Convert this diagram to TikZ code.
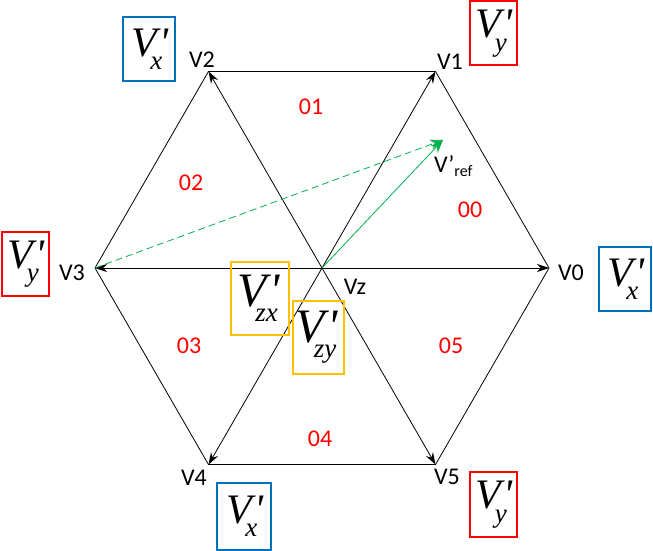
\documentclass[tikz,border=0pt]{standalone}
\usepackage{fontspec}
\setmainfont{Carlito}
\newfontfamily\timesfont{Liberation Serif}
\usetikzlibrary{arrows.meta}
\definecolor{boxblue}{HTML}{0070C0}
\definecolor{boxred}{HTML}{FF0000}
\definecolor{boxyellow}{HTML}{FFC000}
\definecolor{refgreen}{HTML}{00B050}
% italic V with prime and a lowered index
\newcommand{\primevec}[3]{{\timesfont\itshape\fontsize{#1}{#1}\selectfont
    V\kern0.05em\char"27\kern#2em\raisebox{-0.32em}{\fontsize{27}{27}\selectfont #3}\kern0.1em}}

\begin{document}
\begin{tikzpicture}[
    x=1pt, y=-1pt,
    edge/.style={black, line width=0.8pt},
    vec/.style={edge, -{Stealth[length=12pt,width=8pt]}},
    refvec/.style={refgreen, line width=0.8pt, -{Stealth[length=13pt,width=10pt]}},
    vlabel/.style={inner sep=0pt, font=\fontsize{24}{24}\selectfont},
    sector/.style={vlabel, text=boxred},
    xbox/.style={draw=boxblue, line width=2pt, minimum width=52pt, minimum height=64pt, inner sep=0pt},
    ybox/.style={draw=boxred, line width=2pt, minimum width=47pt, minimum height=64pt, inner sep=0pt},
    zbox/.style={draw=boxyellow, line width=2pt, minimum height=73pt, inner sep=0pt}
]
\useasboundingbox (0,0) rectangle (653,551);

\coordinate (c) at (322,268);
\foreach \i in {0,...,5}
    \path (c) ++(-\i*60:227) coordinate (v\i);
\coordinate (ref) at (443,140);

% hexagon and the six vectors
\draw[edge] (v0) -- (v1) -- (v2) -- (v3) -- (v4) -- (v5) -- cycle;
\foreach \i in {0,...,5}
    \draw[vec] (c) -- (v\i);

% reference vector
\draw[refvec, dash pattern=on 7pt off 4pt] (v3) -- (ref);
\draw[refvec] (c) -- (ref);

\node[vlabel] (l0) at (571,273) {V0};
\node[vlabel] (l1) at (450,62) {V1};
\node[vlabel] (l2) at (202,60) {V2};
\node[vlabel] (l3) at (72,273) {V3};
\node[vlabel] (l4) at (194,478) {V4};
\node[vlabel] (l5) at (447,477) {V5};
\node[vlabel] (lz) at (355,287) {Vz};
\node[vlabel, anchor=west] (lref) at (434,166) {V’\textsubscript{\fontsize{16}{16}\selectfont ref}};

\node[sector] (s0) at (470,210) {00};
\node[sector] (s1) at (311,107) {01};
\node[sector] (s2) at (191,183) {02};
\node[sector] (s3) at (189,346) {03};
\node[sector] (s4) at (320,439) {04};
\node[sector] (s5) at (451,346) {05};

\node[xbox] (bx1) at (149,49) {\primevec{42}{-0.42}{x}};
\node[xbox] (bx2) at (625,279) {\primevec{42}{-0.42}{x}};
\node[xbox, minimum width=54pt, minimum height=67pt] (bx3) at (244,516) {\primevec{42}{-0.42}{x}};
\node[ybox] (by1) at (493.5,33.5) {\primevec{42}{-0.42}{y}};
\node[ybox] (by2) at (25.5,264) {\primevec{42}{-0.42}{y}};
\node[ybox, minimum height=65pt] (by3) at (493.5,504.5) {\primevec{42}{-0.42}{y}};
\node[zbox, minimum width=58pt] (bzx) at (260,298.5) {\primevec{48}{-0.5}{zx}};
\node[zbox, minimum width=51pt] (bzy) at (318.5,337.5) {\primevec{48}{-0.5}{zy}};
\end{tikzpicture}
\end{document}
